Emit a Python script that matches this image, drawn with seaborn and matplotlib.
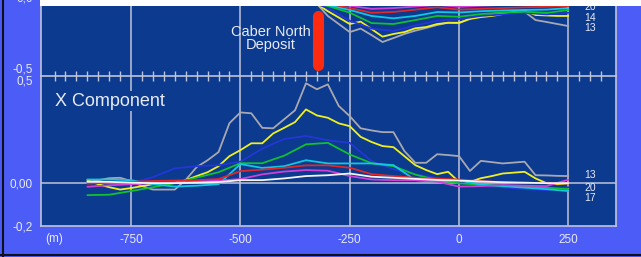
import numpy as np
import pandas as pd
import matplotlib
matplotlib.use('Agg')
import matplotlib.pyplot as plt
import seaborn as sns
from matplotlib.patches import Rectangle
from matplotlib.ticker import FixedLocator

sns.set_style('dark')
plt.rcParams['font.family'] = ['Liberation Sans', 'DejaVu Sans']

# station positions (m)
st25 = np.arange(-850, 251, 25)
st50 = np.arange(-850, 251, 50)
top25 = np.arange(-350, 251, 25)
top50 = np.arange(-350, 251, 50)

# X component (lower panel)
gray_x = [0.006, 0.014, 0.023, 0.025, 0.010, -0.014, -0.030, -0.030, -0.030, 0.015, 0.075, 0.107, 0.145,
          0.280, 0.330, 0.326, 0.258, 0.256, 0.298, 0.340, 0.466, 0.438, 0.461, 0.360, 0.313, 0.256,
          0.246, 0.238, 0.238, 0.150, 0.095, 0.095, 0.135, 0.131, 0.126, 0.057, 0.104, 0.098, 0.092,
          0.096, 0.100, 0.037, 0.036, 0.034, 0.033]
yellow_x = [0.014, -0.005, -0.019, -0.030, -0.023, -0.014, -0.005, 0.000, 0.001, 0.014, 0.033, 0.051, 0.079,
            0.126, 0.154, 0.186, 0.186, 0.232, 0.258, 0.285, 0.344, 0.316, 0.305, 0.279, 0.266, 0.216,
            0.192, 0.173, 0.168, 0.126, 0.084, 0.061, 0.042, 0.053, 0.006, 0.006, 0.023, 0.033, 0.045,
            0.049, 0.053, 0.022, 0.000, -0.005, -0.001]
blue_x = [0.005, 0.005, 0.000, 0.028, 0.069, 0.079, 0.084, 0.100, 0.161, 0.206, 0.220, 0.200, 0.188,
          0.103, 0.065, 0.041, 0.023, 0.005, -0.014, -0.019, -0.028, -0.033, -0.019]
green_x = [-0.056, -0.054, -0.037, -0.019, 0.000, 0.026, 0.051, 0.093, 0.093, 0.128, 0.181, 0.188, 0.134,
           0.093, 0.079, 0.040, 0.014, -0.001, -0.007, -0.012, -0.016, -0.021, -0.028]
cyan_x = [0.017, 0.017, 0.014, -0.005, -0.016, -0.012, -0.005, 0.089, 0.071, 0.079, 0.107, 0.092, 0.092,
          0.092, 0.084, 0.014, 0.009, 0.014, -0.007, -0.014, -0.021, -0.028, -0.037]
red_x = [-0.002, 0.002, 0.006, 0.010, 0.012, 0.014, 0.019, 0.056, 0.063, 0.072, 0.083, 0.083, 0.072,
         0.042, 0.033, 0.025, 0.021, 0.017, 0.009, 0.005, 0.002, 0.000, -0.001]
magenta_x = [-0.017, -0.010, -0.005, 0.000, 0.003, 0.006, 0.012, 0.019, 0.041, 0.054, 0.061, 0.058, 0.033,
             0.017, 0.014, 0.014, 0.007, -0.016, -0.014, -0.009, -0.012, -0.014, 0.016]
white_x = [0.006, 0.006, 0.002, 0.000, 0.000, 0.002, 0.005, 0.014, 0.014, 0.022, 0.033, 0.037, 0.045,
           0.030, 0.025, 0.020, 0.015, 0.012, 0.008, 0.004, 0.002, 0.000, 0.000]

# upper panel (only its lower part is visible)
gray_t = [-0.020, -0.044, -0.120, -0.171, -0.222, -0.200, -0.241, -0.285, -0.260, -0.234, -0.213, -0.196,
          -0.177, -0.163, -0.166, -0.136, -0.123, -0.114, -0.103, -0.098, -0.093, -0.146, -0.158, -0.171, -0.184]
yellow_t = [-0.020, -0.044, -0.090, -0.130, -0.171, -0.156, -0.203, -0.251, -0.234, -0.222, -0.198, -0.190,
            -0.171, -0.163, -0.163, -0.139, -0.127, -0.120, -0.108, -0.095, -0.087, -0.114, -0.117, -0.120, -0.120]
blue_t = [-0.020, -0.070, -0.150, -0.200, -0.215, -0.180, -0.150, -0.140, -0.120, -0.110, -0.100, -0.110, -0.100]
green_t = [-0.020, -0.057, -0.099, -0.165, -0.171, -0.146, -0.120, -0.125, -0.108, -0.098, -0.093, -0.101, -0.082]
cyan_t = [-0.020, -0.050, -0.082, -0.120, -0.135, -0.120, -0.095, -0.098, -0.090, -0.085, -0.082, -0.080, -0.070]
red_t = [-0.020, -0.040, -0.070, -0.100, -0.095, -0.080, -0.065, -0.080, -0.075, -0.070, -0.065, -0.062, -0.057]
magenta_t = [-0.020, -0.035, -0.055, -0.075, -0.070, -0.060, -0.050, -0.062, -0.055, -0.050, -0.048, -0.050, -0.045]
white_t = [-0.020, -0.030, -0.040, -0.050, -0.050, -0.045, -0.040, -0.050, -0.045, -0.042, -0.040, -0.042, -0.040]

deposit_x = [-322, -322]
deposit_y = [-0.12, -0.43]

x_ticks = [-750, -500, -250, 0, 250]
x_labels = ['-750', '-500', '-250', '0', '250']

cols = {'gray': '#a8a8b0', 'yellow': '#f0f020', 'blue': '#2436d8', 'green': '#10c030',
        'cyan': '#10c8e0', 'red': '#e02828', 'magenta': '#d040d8', 'white': '#f4f4f4'}

bg = '#4b5cf7'
plot_bg = '#0b3a8e'
fg = '#e8eaf4'
grid_c = '#c0c4d8'

fig = plt.figure(figsize=(6.41, 2.57), dpi=100, facecolor=bg)
ax_b = fig.add_axes([41 / 641, 31 / 257, 575 / 641, 150 / 257])
ax_t = fig.add_axes([41 / 641, 181 / 257, 575 / 641, 79 / 257])

for ax in (ax_t, ax_b):
    ax.set_facecolor(plot_bg)
    ax.set_xlim(-956, 359)
    for s in ax.spines.values():
        s.set_color(grid_c)
        s.set_linewidth(1.2)
    ax.spines['top'].set_visible(False)
    for xv in x_ticks:
        ax.axvline(xv, color=grid_c, lw=1.1, zorder=1)

lower = [(st25, gray_x, 'gray'), (st25, yellow_x, 'yellow'), (st50, blue_x, 'blue'),
         (st50, green_x, 'green'), (st50, cyan_x, 'cyan'), (st50, red_x, 'red'),
         (st50, magenta_x, 'magenta'), (st50, white_x, 'white')]
upper = [(top25, gray_t, 'gray'), (top25, yellow_t, 'yellow'), (top50, blue_t, 'blue'),
         (top50, green_t, 'green'), (top50, cyan_t, 'cyan'), (top50, red_t, 'red'),
         (top50, magenta_t, 'magenta'), (top50, white_t, 'white')]

ax_b.axhline(0, color=grid_c, lw=1.1, zorder=1)
for xs, ys, c in lower:
    sns.lineplot(x=xs, y=ys, ax=ax_b, color=cols[c], lw=1.3, zorder=3)
for xs, ys, c in upper:
    sns.lineplot(x=xs, y=ys, ax=ax_t, color=cols[c], lw=1.3, zorder=3)

ax_t.plot(deposit_x, deposit_y, color='#ff2a10', lw=8, solid_capstyle='round', zorder=4)

ax_b.set_ylim(-0.2, 0.5)
ax_t.set_ylim(-0.5, 0.0)

# y tick labels
ax_b.set_yticks([0.5, 0.0, -0.2], ['0,5', '0,00', '-0,2'])
ax_t.set_yticks([-0.5, 0.0], ['-0,5', '0,0'])
for ax in (ax_t, ax_b):
    ax.tick_params(axis='y', length=0, pad=6, labelsize=8.5, labelcolor=fg)
ax_b.get_yticklabels()[0].set_va('top')
ax_t.get_yticklabels()[0].set_va('bottom')

# x axis
ax_b.set_xticks(x_ticks, x_labels)
ax_b.tick_params(axis='x', length=0, pad=6, labelsize=8.5, labelcolor=fg)
ax_t.set_xticks(x_ticks, [])
ax_t.xaxis.set_minor_locator(FixedLocator(np.arange(-925, 326, 25)))
ax_t.tick_params(axis='x', which='both', direction='inout', length=7, width=1, color=grid_c, bottom=True)
ax_t.tick_params(axis='x', which='major', length=0)
ax_b.set_xlabel('')
ax_b.set_ylabel('')
ax_t.set_xlabel('')
ax_t.set_ylabel('')
ax_b.text(0.008, -0.085, '(m)', transform=ax_b.transAxes, color=fg, fontsize=8.5, va='center')

# annotations
ax_b.text(0.024, 0.833, 'X Component', transform=ax_b.transAxes, color=fg, fontsize=13,
          va='center', ha='left', zorder=5,
          bbox=dict(facecolor=plot_bg, edgecolor='none', pad=1))
ax_t.text(-430, -0.26, 'Caber North\nDeposit', color=fg, fontsize=10.5, ha='center', va='center',
          linespacing=0.9, zorder=5)

for lbl, yv in [('13', 0.036), ('20', -0.022), ('17', -0.068)]:
    ax_b.text(300, yv, lbl, color=fg, fontsize=7.5, ha='center', va='center')
for lbl, yv in [('20', -0.062), ('14', -0.130), ('13', -0.198)]:
    ax_t.text(300, yv, lbl, color=fg, fontsize=7.5, ha='center', va='center')

# white strip at top and dark borders
fig.add_artist(Rectangle((40 / 641, 251 / 257), 601 / 641, 6 / 257, transform=fig.transFigure,
                         facecolor='white', edgecolor='none', zorder=10))
fig.add_artist(plt.Line2D([3 / 641, 3 / 641], [0, 1], transform=fig.transFigure, color='#101018', lw=1.5))
fig.add_artist(plt.Line2D([0, 1], [2 / 257, 2 / 257], transform=fig.transFigure, color='#101018', lw=1.5))

fig.savefig('out.png', dpi=100, facecolor=bg)
